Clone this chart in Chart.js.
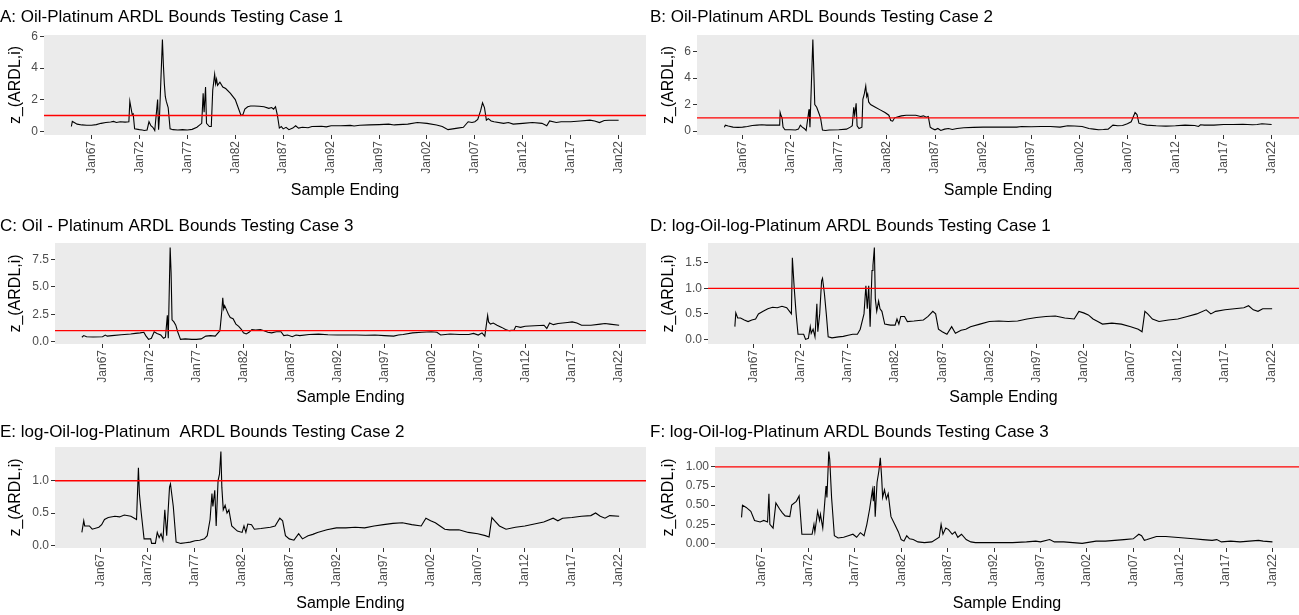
<!DOCTYPE html>
<html>

<head>
  <meta charset="UTF-8">
  <title>ARDL Bounds Testing</title>
  <script src="https://cdn.jsdelivr.net/npm/chart.js"></script>
  <style>
    body { margin: 0; background: #fff; }
    #figura { position: relative; width: 1299px; height: 615px; overflow: hidden; }
    #figura canvas { position: absolute; }
  </style>
</head>

<body>
  <div id="figura">
    <canvas id="painelA" width="650" height="205" style="left:0px;top:0px"></canvas>
    <canvas id="painelB" width="649" height="205" style="left:650px;top:0px"></canvas>
    <canvas id="painelC" width="650" height="205" style="left:0px;top:208px"></canvas>
    <canvas id="painelD" width="649" height="205" style="left:650px;top:208px"></canvas>
    <canvas id="painelE" width="650" height="203" style="left:0px;top:412px"></canvas>
    <canvas id="painelF" width="649" height="203" style="left:650px;top:412px"></canvas>
  </div>

  <script>
    // x axis: sample ending dates
    var tickYears = [1967, 1972, 1977, 1982, 1987, 1992, 1997, 2002, 2007, 2012, 2017, 2022];
    var tickLabels = ['Jan67', 'Jan72', 'Jan77', 'Jan82', 'Jan87', 'Jan92', 'Jan97', 'Jan02', 'Jan07', 'Jan12', 'Jan17', 'Jan22'];
    var threshold = 1;

    // A: Oil-Platinum, case 1
    var yearsA = [1964.9, 1965.0, 1965.2, 1965.5, 1966.0, 1966.5, 1967.0, 1967.5, 1968.0, 1968.5, 1969.0, 1969.3, 1969.6, 1970.0, 1970.5, 1970.9,
      1971.0, 1971.1, 1971.25, 1971.35, 1971.5, 1972.0, 1972.3, 1972.5, 1972.8, 1973.0, 1973.2, 1973.4, 1973.6, 1973.9, 1974.0, 1974.1,
      1974.4, 1974.5, 1974.6, 1974.7, 1974.8, 1975.0, 1975.2, 1975.5, 1976.0, 1976.5, 1977.0, 1977.5, 1978.0, 1978.3, 1978.5, 1978.65,
      1978.75, 1978.9, 1979.0, 1979.3, 1979.5, 1979.65, 1979.85, 1979.95, 1980.05, 1980.15, 1980.4, 1980.7, 1981.0, 1981.5, 1982.0, 1982.3,
      1982.6, 1982.8, 1983.0, 1983.3, 1983.6, 1984.0, 1984.5, 1985.0, 1985.5, 1985.8, 1986.0, 1986.2, 1986.4, 1986.6, 1986.8, 1987.0,
      1987.3, 1987.6, 1988.0, 1988.3, 1988.6, 1989.0, 1989.6, 1990.0, 1991.0, 1991.5, 1992.0, 1993.0, 1994.0, 1994.4, 1995.0, 1996.0,
      1997.0, 1998.0, 1998.6, 1999.0, 2000.0, 2001.0, 2002.0, 2003.0, 2003.6, 2004.2, 2004.7, 2005.2, 2005.8, 2006.3, 2006.7, 2007.0,
      2007.3, 2007.6, 2007.8, 2008.0, 2008.2, 2008.4, 2008.7, 2009.0, 2010.0, 2010.5, 2011.0, 2012.0, 2013.0, 2014.0, 2014.5, 2014.8,
      2015.5, 2016.0, 2017.0, 2018.0, 2019.0, 2019.5, 2020.0, 2020.5, 2021.0, 2022.0];
    var zA = [0.30, 0.62, 0.55, 0.45, 0.40, 0.38, 0.38, 0.42, 0.50, 0.55, 0.58, 0.62, 0.55, 0.60, 0.58, 0.60,
      1.90, 1.55, 1.05, 1.10, 0.15, 0.10, 0.08, 0.05, 0.08, 0.60, 0.35, 0.25, 0.05, 2.00, 0.10, 1.00,
      5.80, 4.20, 3.00, 2.20, 1.90, 1.50, 0.15, 0.10, 0.08, 0.10, 0.08, 0.12, 0.25, 0.40, 0.50, 2.40,
      1.20, 2.80, 0.50, 0.30, 0.30, 2.60, 3.60, 3.00, 3.30, 2.90, 3.10, 2.80, 2.70, 2.40, 2.00, 1.50,
      1.00, 1.05, 1.40, 1.55, 1.60, 1.60, 1.58, 1.55, 1.45, 1.50, 1.40, 1.55, 1.00, 0.20, 0.30, 0.15,
      0.25, 0.10, 0.20, 0.35, 0.20, 0.25, 0.22, 0.30, 0.32, 0.28, 0.35, 0.35, 0.37, 0.33, 0.38, 0.40,
      0.42, 0.45, 0.40, 0.42, 0.45, 0.55, 0.50, 0.40, 0.30, 0.10, 0.15, 0.20, 0.25, 0.60, 0.55, 0.60,
      0.75, 1.30, 1.80, 1.50, 0.70, 0.80, 0.65, 0.60, 0.50, 0.55, 0.45, 0.50, 0.55, 0.50, 0.35, 0.65,
      0.55, 0.60, 0.60, 0.65, 0.70, 0.65, 0.55, 0.68, 0.70, 0.70];

    // B: Oil-Platinum, case 2
    var yearsB = [1965.1, 1965.2, 1965.5, 1966.0, 1966.5, 1967.0, 1967.5, 1968.0, 1968.5, 1969.0, 1969.5, 1970.0, 1970.5, 1970.85, 1970.9, 1971.0,
      1971.1, 1971.2, 1971.4, 1972.0, 1972.5, 1972.8, 1973.0, 1973.2, 1973.4, 1973.6, 1973.9, 1974.0, 1974.15, 1974.3, 1974.4, 1974.5,
      1974.7, 1974.9, 1975.1, 1975.3, 1975.6, 1976.0, 1977.0, 1977.8, 1978.2, 1978.4, 1978.55, 1978.65, 1978.8, 1978.9, 1979.1, 1979.4,
      1979.5, 1979.65, 1979.8, 1979.9, 1980.0, 1980.1, 1980.3, 1980.8, 1981.3, 1981.8, 1982.2, 1982.4, 1982.6, 1982.8, 1983.0, 1983.5,
      1984.0, 1985.0, 1985.5, 1985.8, 1986.1, 1986.3, 1986.5, 1986.7, 1987.0, 1987.3, 1987.6, 1988.0, 1988.4, 1988.8, 1989.3, 1990.0,
      1991.0, 1992.0, 1994.0, 1995.5, 1996.0, 1997.0, 1998.0, 1999.0, 2000.0, 2000.8, 2001.5, 2002.3, 2003.0, 2003.5, 2004.0, 2004.5,
      2005.0, 2005.5, 2006.0, 2006.5, 2007.0, 2007.4, 2007.8, 2008.0, 2008.2, 2008.4, 2008.7, 2009.0, 2010.0, 2011.0, 2012.0, 2013.0,
      2014.0, 2014.4, 2014.6, 2015.0, 2016.0, 2017.0, 2018.0, 2019.0, 2020.0, 2020.5, 2021.0, 2022.0];
    var zB = [0.30, 0.45, 0.38, 0.30, 0.28, 0.30, 0.35, 0.42, 0.45, 0.48, 0.45, 0.45, 0.45, 0.45, 1.40, 1.15,
      1.00, 0.30, 0.10, 0.10, 0.08, 0.15, 0.45, 0.30, 0.20, 0.05, 1.65, 0.30, 3.60, 6.90, 4.50, 2.00,
      1.80, 1.40, 1.00, 0.08, 0.05, 0.08, 0.10, 0.15, 0.30, 0.40, 1.80, 1.20, 2.10, 0.40, 0.20, 0.30,
      2.40, 2.80, 3.40, 2.60, 2.80, 2.20, 2.00, 1.80, 1.60, 1.40, 1.20, 0.80, 0.75, 1.00, 1.05, 1.15,
      1.20, 1.20, 1.10, 1.15, 1.05, 1.10, 0.30, 0.20, 0.10, 0.20, 0.05, 0.15, 0.20, 0.12, 0.20, 0.25,
      0.28, 0.30, 0.30, 0.30, 0.35, 0.33, 0.35, 0.35, 0.30, 0.40, 0.38, 0.35, 0.20, 0.15, 0.10, 0.12,
      0.15, 0.45, 0.40, 0.42, 0.55, 0.70, 1.40, 1.25, 0.60, 0.55, 0.50, 0.45, 0.40, 0.38, 0.40, 0.45,
      0.42, 0.35, 0.48, 0.45, 0.45, 0.50, 0.50, 0.52, 0.48, 0.50, 0.55, 0.50];

    // C: Oil - Platinum, case 3
    var yearsC = [1964.8, 1965.0, 1965.3, 1966.0, 1967.0, 1967.3, 1967.5, 1968.0, 1969.0, 1970.0, 1970.5, 1971.0, 1971.4, 1971.6, 1971.9, 1972.2,
      1972.5, 1972.8, 1973.2, 1973.5, 1973.7, 1973.9, 1974.0, 1974.2, 1974.3, 1974.4, 1974.6, 1974.8, 1975.0, 1975.3, 1975.8, 1976.5,
      1977.0, 1977.5, 1978.0, 1978.5, 1979.0, 1979.3, 1979.5, 1979.7, 1979.8, 1979.9, 1980.0, 1980.2, 1980.4, 1980.6, 1980.9, 1981.2,
      1981.5, 1981.8, 1982.0, 1982.3, 1982.6, 1982.9, 1983.3, 1983.8, 1984.2, 1984.6, 1985.0, 1985.5, 1986.0, 1986.3, 1986.7, 1987.2,
      1987.6, 1988.0, 1989.0, 1990.0, 1991.0, 1992.0, 1993.0, 1994.0, 1995.0, 1996.0, 1997.0, 1998.0, 1998.5, 1999.0, 2000.0, 2001.0,
      2002.0, 2002.6, 2003.0, 2003.5, 2004.0, 2005.0, 2006.0, 2006.5, 2007.0, 2007.4, 2007.7, 2008.0, 2008.1, 2008.3, 2008.6, 2009.0,
      2009.5, 2009.9, 2010.3, 2010.8, 2011.0, 2011.5, 2012.0, 2013.0, 2014.0, 2014.3, 2014.6, 2015.0, 2015.5, 2016.5, 2017.0, 2017.5,
      2018.0, 2019.0, 2020.0, 2020.5, 2021.0, 2022.0];
    var zC = [0.40, 0.55, 0.45, 0.42, 0.45, 0.60, 0.50, 0.55, 0.62, 0.70, 0.75, 0.80, 0.85, 0.55, 0.20, 0.30,
      0.90, 0.75, 0.60, 0.30, 0.40, 2.40, 0.30, 8.60, 6.30, 2.00, 1.80, 1.50, 0.90, 0.20, 0.25, 0.20,
      0.20, 0.25, 0.50, 0.55, 0.50, 0.80, 1.00, 2.80, 4.00, 3.00, 3.30, 2.90, 2.50, 2.20, 2.10, 1.60,
      1.40, 1.10, 0.80, 0.70, 0.85, 1.10, 1.05, 1.10, 1.00, 0.85, 0.80, 0.90, 0.90, 0.55, 0.60, 0.45,
      0.60, 0.55, 0.65, 0.68, 0.62, 0.60, 0.60, 0.60, 0.58, 0.60, 0.55, 0.50, 0.60, 0.65, 0.80, 0.85,
      0.90, 0.85, 0.60, 0.65, 0.70, 0.65, 0.65, 0.75, 0.60, 0.80, 0.50, 2.40, 1.80, 1.60, 1.70, 1.50,
      1.30, 1.10, 1.00, 1.05, 1.40, 1.30, 1.40, 1.45, 1.50, 1.20, 1.70, 1.55, 1.65, 1.75, 1.80, 1.70,
      1.50, 1.50, 1.60, 1.65, 1.60, 1.50];

    // D: log-Oil-log-Platinum, case 1
    var yearsD = [1965.0, 1965.1, 1965.3, 1965.6, 1966.0, 1966.4, 1966.8, 1967.2, 1967.5, 1968.0, 1968.5, 1969.0, 1969.5, 1970.0, 1970.5, 1970.8,
      1971.0, 1971.1, 1971.2, 1971.3, 1971.5, 1971.7, 1972.0, 1972.3, 1972.5, 1972.8, 1973.0, 1973.1, 1973.3, 1973.5, 1973.7, 1973.8,
      1974.0, 1974.2, 1974.3, 1974.5, 1974.7, 1974.9, 1975.3, 1976.0, 1976.5, 1977.0, 1977.5, 1978.0, 1978.3, 1978.7, 1978.9, 1979.05,
      1979.2, 1979.35, 1979.55, 1979.65, 1979.8, 1979.9, 1980.05, 1980.25, 1980.4, 1980.6, 1980.9, 1981.5, 1982.0, 1982.2, 1982.4, 1982.6,
      1983.0, 1983.3, 1984.0, 1985.0, 1985.5, 1986.0, 1986.3, 1986.6, 1987.0, 1987.5, 1988.0, 1988.4, 1989.0, 1989.5, 1990.0, 1991.0,
      1992.0, 1993.0, 1994.0, 1995.0, 1996.0, 1997.0, 1998.0, 1999.0, 2000.0, 2001.0, 2001.5, 2002.0, 2002.5, 2003.0, 2003.5, 2004.0,
      2005.0, 2006.0, 2007.0, 2007.8, 2008.2, 2008.5, 2008.8, 2009.3, 2010.0, 2011.0, 2012.0, 2013.0, 2014.0, 2015.0, 2015.5, 2016.0,
      2017.0, 2018.0, 2019.0, 2019.5, 2020.0, 2020.5, 2021.0, 2022.0];
    var zD = [0.25, 0.52, 0.42, 0.42, 0.38, 0.35, 0.38, 0.40, 0.50, 0.55, 0.60, 0.63, 0.62, 0.65, 0.62, 0.55,
      0.50, 1.60, 1.30, 1.00, 0.50, 0.10, 0.10, 0.10, 0.00, 0.02, 0.25, 0.12, 0.20, 0.05, 0.70, 0.15,
      0.50, 1.15, 1.20, 0.90, 0.50, 0.05, 0.03, 0.05, 0.06, 0.08, 0.10, 0.10, 0.20, 0.50, 1.05, 0.60,
      1.05, 0.25, 1.35, 1.45, 1.80, 0.80, 0.55, 0.75, 0.60, 0.55, 0.30, 0.28, 0.28, 0.40, 0.30, 0.45,
      0.45, 0.35, 0.36, 0.38, 0.45, 0.55, 0.50, 0.20, 0.15, 0.10, 0.25, 0.12, 0.18, 0.20, 0.25, 0.30,
      0.35, 0.36, 0.35, 0.36, 0.40, 0.43, 0.45, 0.46, 0.42, 0.40, 0.55, 0.52, 0.48, 0.40, 0.35, 0.30,
      0.32, 0.30, 0.25, 0.20, 0.15, 0.55, 0.50, 0.40, 0.35, 0.38, 0.40, 0.45, 0.50, 0.58, 0.50, 0.55,
      0.58, 0.60, 0.62, 0.66, 0.58, 0.55, 0.60, 0.60];

    // E: log-Oil-log-Platinum, case 2
    var yearsE = [1965.0, 1965.2, 1965.3, 1965.8, 1966.1, 1966.8, 1967.1, 1967.4, 1967.8, 1968.5, 1969.0, 1969.5, 1970.2, 1970.8, 1971.0, 1971.1,
      1971.3, 1971.6, 1972.0, 1972.3, 1972.4, 1972.8, 1973.0, 1973.2, 1973.4, 1973.6, 1973.8, 1974.0, 1974.3, 1974.4, 1974.7, 1975.0,
      1975.5, 1976.0, 1976.5, 1977.0, 1977.5, 1978.0, 1978.3, 1978.6, 1978.8, 1978.9, 1979.1, 1979.25, 1979.45, 1979.6, 1979.75, 1979.85,
      1980.0, 1980.2, 1980.4, 1980.6, 1980.9, 1981.5, 1982.0, 1982.2, 1982.4, 1982.6, 1983.0, 1983.3, 1984.0, 1985.0, 1985.5, 1986.0,
      1986.3, 1986.6, 1987.0, 1987.5, 1988.0, 1988.4, 1989.0, 1989.5, 1990.0, 1991.0, 1992.0, 1993.0, 1994.0, 1995.0, 1996.0, 1997.0,
      1998.0, 1999.0, 2000.0, 2001.0, 2001.5, 2002.0, 2002.5, 2003.0, 2003.5, 2004.0, 2005.0, 2006.0, 2007.0, 2007.8, 2008.2, 2008.5,
      2008.8, 2009.3, 2010.0, 2011.0, 2012.0, 2013.0, 2014.0, 2015.0, 2015.5, 2016.0, 2017.0, 2018.0, 2019.0, 2019.5, 2020.0, 2020.5,
      2021.0, 2022.0];
    var zE = [0.20, 0.38, 0.30, 0.30, 0.25, 0.28, 0.32, 0.40, 0.43, 0.45, 0.44, 0.47, 0.45, 0.40, 1.20, 0.80,
      0.50, 0.10, 0.10, 0.10, 0.03, 0.03, 0.20, 0.12, 0.18, 0.08, 0.55, 0.15, 0.90, 0.95, 0.60, 0.05,
      0.03, 0.04, 0.05, 0.07, 0.08, 0.10, 0.15, 0.40, 0.80, 0.60, 0.85, 0.30, 1.00, 1.10, 1.45, 0.90,
      0.55, 0.62, 0.50, 0.55, 0.30, 0.22, 0.20, 0.30, 0.20, 0.33, 0.32, 0.25, 0.26, 0.28, 0.30, 0.42,
      0.38, 0.15, 0.10, 0.08, 0.18, 0.10, 0.15, 0.17, 0.20, 0.24, 0.27, 0.27, 0.28, 0.27, 0.30, 0.32,
      0.34, 0.35, 0.32, 0.30, 0.42, 0.38, 0.35, 0.30, 0.25, 0.24, 0.24, 0.20, 0.18, 0.15, 0.13, 0.43,
      0.38, 0.30, 0.25, 0.28, 0.30, 0.33, 0.36, 0.42, 0.38, 0.42, 0.43, 0.45, 0.46, 0.50, 0.45, 0.42,
      0.46, 0.45];

    // F: log-Oil-log-Platinum, case 3
    var yearsF = [1964.8, 1964.9, 1965.3, 1965.8, 1966.2, 1966.8, 1967.2, 1967.6, 1967.75, 1967.85, 1968.2, 1968.5, 1968.9, 1969.2, 1969.5, 1970.0,
      1970.2, 1970.7, 1971.0, 1971.3, 1971.8, 1972.4, 1972.6, 1972.7, 1973.0, 1973.2, 1973.3, 1973.55, 1973.9, 1974.0, 1974.2, 1974.3,
      1974.5, 1974.8, 1975.2, 1975.8, 1976.3, 1976.8, 1977.2, 1977.6, 1978.0, 1978.3, 1978.6, 1978.9, 1979.0, 1979.1, 1979.2, 1979.4,
      1979.6, 1979.75, 1979.9, 1980.0, 1980.2, 1980.4, 1980.6, 1980.9, 1981.3, 1981.7, 1982.0, 1982.3, 1982.6, 1982.9, 1983.3, 1983.8,
      1984.5, 1985.3, 1986.1, 1986.3, 1986.5, 1986.8, 1987.1, 1987.5, 1987.8, 1988.1, 1988.5, 1989.0, 1989.5, 1990.0, 1992.0, 1994.0,
      1995.5, 1996.5, 1997.0, 1998.0, 1998.5, 1999.5, 2000.5, 2001.5, 2002.5, 2003.0, 2004.0, 2005.0, 2006.0, 2007.0, 2007.6, 2007.9,
      2008.2, 2008.5, 2009.0, 2009.5, 2010.5, 2011.5, 2012.5, 2013.5, 2014.5, 2015.5, 2016.0, 2016.5, 2017.5, 2018.5, 2019.5, 2020.5,
      2021.0, 2022.0];
    var zF = [0.34, 0.50, 0.47, 0.42, 0.30, 0.28, 0.30, 0.28, 0.65, 0.25, 0.20, 0.53, 0.45, 0.40, 0.36, 0.35,
      0.50, 0.55, 0.62, 0.12, 0.12, 0.12, 0.25, 0.15, 0.42, 0.30, 0.38, 0.20, 0.75, 0.60, 1.20, 1.10,
      0.60, 0.10, 0.07, 0.08, 0.10, 0.12, 0.08, 0.14, 0.10, 0.25, 0.45, 0.70, 0.55, 0.75, 0.35, 0.80,
      0.95, 1.12, 0.85, 0.60, 0.70, 0.58, 0.65, 0.35, 0.25, 0.15, 0.05, 0.03, 0.10, 0.06, 0.05, 0.02,
      0.01, 0.02, 0.08, 0.25, 0.12, 0.20, 0.18, 0.12, 0.15, 0.08, 0.12, 0.05, 0.02, 0.01, 0.01, 0.01,
      0.02, 0.03, 0.02, 0.05, 0.02, 0.02, 0.01, 0.00, 0.02, 0.03, 0.03, 0.04, 0.05, 0.06, 0.12, 0.10,
      0.04, 0.05, 0.07, 0.09, 0.09, 0.08, 0.07, 0.06, 0.05, 0.04, 0.05, 0.02, 0.03, 0.02, 0.03, 0.04,
      0.03, 0.02];

    var fonte = "'Liberation Sans', Arial, sans-serif";

    // gray panel behind the series, like ggplot
    var fundoPainel = {
      id: 'fundoPainel',
      beforeDraw: function (chart) {
        var a = chart.chartArea;
        chart.ctx.save();
        chart.ctx.fillStyle = '#EBEBEB';
        chart.ctx.fillRect(a.left, a.top, a.right - a.left, a.bottom - a.top);
        chart.ctx.restore();
      }
    };

    // red reference line at z = 1
    var linhaLimite = {
      id: 'linhaLimite',
      afterDatasetsDraw: function (chart) {
        var a = chart.chartArea;
        var y = chart.scales.y.getPixelForValue(threshold);
        var ctx = chart.ctx;
        ctx.save();
        ctx.strokeStyle = '#FF0000';
        ctx.lineWidth = 1.4;
        ctx.beginPath();
        ctx.moveTo(a.left, y);
        ctx.lineTo(a.right, y);
        ctx.stroke();
        ctx.restore();
      }
    };

    function expandir(valores) {
      var lo = Math.min.apply(null, valores);
      var hi = Math.max.apply(null, valores);
      var pad = (hi - lo) * 0.05;
      return [lo - pad, hi + pad];
    }

    function criarPainel(id, titulo, anos, valores, yTicks, casas, cfg) {
      var pontos = anos.map(function (a, i) { return { x: a, y: valores[i] }; });
      var faixaX = expandir(anos);
      var faixaY = expandir(valores.concat([threshold]));

      return new Chart(document.getElementById(id), {
        type: 'line',
        data: {
          datasets: [{
            data: pontos,
            borderColor: '#000000',
            borderWidth: 1.1,
            pointRadius: 0,
            tension: 0,
            fill: false
          }]
        },
        options: {
          responsive: false,
          animation: false,
          layout: { padding: { left: 0, right: cfg.direita, top: 0, bottom: 0 } },
          plugins: {
            legend: { display: false },
            tooltip: { enabled: false },
            title: {
              display: true,
              text: titulo,
              align: 'start',
              color: '#000000',
              font: { family: fonte, size: 17, weight: 'normal', lineHeight: 1.2 },
              padding: { top: cfg.tituloTopo, bottom: 35 - 20.4 - cfg.tituloTopo, left: 10 }
            }
          },
          scales: {
            x: {
              type: 'linear',
              min: faixaX[0],
              max: faixaX[1],
              afterBuildTicks: function (s) {
                s.ticks = tickYears.map(function (v) { return { value: v }; });
              },
              afterFit: function (s) { s.height = cfg.alturaX; },
              ticks: {
                autoSkip: false,
                minRotation: 90,
                maxRotation: 90,
                padding: 2,
                color: '#4D4D4D',
                font: { family: fonte, size: 12 },
                callback: function (v, i) { return tickLabels[i]; }
              },
              grid: { drawOnChartArea: false, drawTicks: true, tickLength: 4, color: '#333333' },
              border: { display: false },
              title: {
                display: true,
                text: 'Sample Ending',
                color: '#000000',
                font: { family: fonte, size: 16, lineHeight: 1.2 },
                padding: { top: 0, bottom: cfg.tituloX }
              }
            },
            y: {
              type: 'linear',
              min: faixaY[0],
              max: faixaY[1],
              afterBuildTicks: function (s) {
                s.ticks = yTicks.map(function (v) { return { value: v }; });
              },
              afterFit: function (s) { s.width = cfg.larguraY; },
              ticks: {
                padding: 2,
                color: '#4D4D4D',
                font: { family: fonte, size: 12 },
                callback: function (v) { return v.toFixed(casas); }
              },
              grid: { drawOnChartArea: false, drawTicks: true, tickLength: 4, color: '#333333' },
              border: { display: false },
              title: {
                display: true,
                text: 'z_(ARDL,i)',
                color: '#000000',
                font: { family: fonte, size: 16, lineHeight: 1.2 },
                padding: { top: cfg.tituloY, bottom: 0 }
              }
            }
          }
        },
        plugins: [fundoPainel, linhaLimite]
      });
    }

    criarPainel('painelA', 'A: Oil-Platinum ARDL Bounds Testing Case 1', yearsA, zA, [0, 2, 4, 6], 0,
      { larguraY: 44, alturaX: 70, direita: 4, tituloTopo: 7, tituloX: 5, tituloY: 6 });
    criarPainel('painelB', 'B: Oil-Platinum ARDL Bounds Testing Case 2', yearsB, zB, [0, 2, 4, 6], 0,
      { larguraY: 47, alturaX: 70, direita: 0, tituloTopo: 7, tituloX: 5, tituloY: 9 });
    criarPainel('painelC', 'C: Oil - Platinum ARDL Bounds Testing Case 3', yearsC, zC, [0, 2.5, 5, 7.5], 1,
      { larguraY: 55, alturaX: 69, direita: 4, tituloTopo: 8, tituloX: 6, tituloY: 6 });
    criarPainel('painelD', 'D: log-Oil-log-Platinum ARDL Bounds Testing Case 1', yearsD, zD, [0, 0.5, 1, 1.5], 1,
      { larguraY: 58, alturaX: 69, direita: 0, tituloTopo: 8, tituloX: 6, tituloY: 9 });
    criarPainel('painelE', 'E: log-Oil-log-Platinum  ARDL Bounds Testing Case 2', yearsE, zE, [0, 0.5, 1], 1,
      { larguraY: 55, alturaX: 67, direita: 4, tituloTopo: 10, tituloX: 2, tituloY: 6 });
    criarPainel('painelF', 'F: log-Oil-log-Platinum ARDL Bounds Testing Case 3', yearsF, zF, [0, 0.25, 0.5, 0.75, 1], 2,
      { larguraY: 65, alturaX: 67, direita: 0, tituloTopo: 10, tituloX: 2, tituloY: 9 });
  </script>
</body>

</html>
